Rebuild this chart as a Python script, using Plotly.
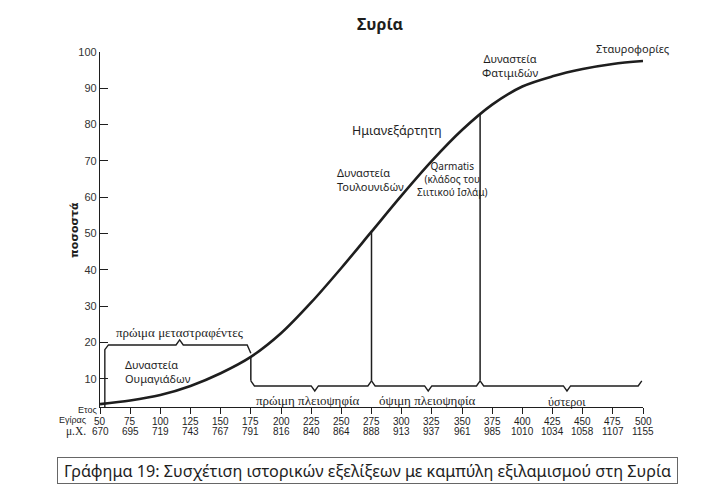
import plotly.graph_objects as go

# values
hijra_years = [50, 75, 100, 125, 150, 175, 200, 225, 250, 275, 300, 325, 350, 375, 400, 425, 450, 475, 500]
ad_years = [670, 695, 719, 743, 767, 791, 816, 840, 864, 888, 913, 937, 961, 985, 1010, 1034, 1058, 1107, 1155]
curve_pct = [3, 4, 5.5, 8, 11.5, 16, 22.5, 31, 40.5, 50.5, 60.5, 70, 78.5, 85.5, 90.5, 93.3, 95.3, 96.7, 97.5]
y_ticks = [10, 20, 30, 40, 50, 60, 70, 80, 90, 100]

# period markers (hijra year where the curve is cut, percent at that point)
event_hijra = [175, 275, 365]
event_pct = [16, 50.5, 83]

# braces: start, end, middle (hijra years)
upper_brace = [54, 175, 116]
lower_braces_start = [175, 275, 365]
lower_braces_end = [275, 365, 499]
lower_braces_mid = [228, 322, 437]

INK = "#1e1e1e"


def brace(x0, x1, xm, level, tip, end0, end1, d=3):
    xs = [x0, x0 + d, xm - d, xm, xm + d, x1 - d, x1]
    ys = [end0, level, level, tip, level, level, end1]
    return xs, ys


fig = go.Figure()

# main curve
fig.add_trace(go.Scatter(x=hijra_years, y=curve_pct, mode="lines",
                         line=dict(color=INK, width=2.6, shape="spline", smoothing=0.9),
                         hoverinfo="skip"))

# vertical cuts from the curve down to the lower braces
for h, p in zip(event_hijra, event_pct):
    fig.add_trace(go.Scatter(x=[h, h], y=[p, 9.4], mode="lines",
                             line=dict(color=INK, width=1.5), hoverinfo="skip"))

# upper brace (early converts), left end running down to the axis
bx, by = brace(upper_brace[0], upper_brace[1], upper_brace[2], 19.3, 20.7, 18, 17)
fig.add_trace(go.Scatter(x=[upper_brace[0]] + bx, y=[2.2] + by, mode="lines",
                         line=dict(color=INK, width=1.4), hoverinfo="skip"))

# lower braces
for a, b, m in zip(lower_braces_start, lower_braces_end, lower_braces_mid):
    bx, by = brace(a, b, m, 8, 6.6, 9.4, 9.4)
    fig.add_trace(go.Scatter(x=bx, y=by, mode="lines",
                             line=dict(color=INK, width=1.4), hoverinfo="skip"))

ann = []
sans = "Noto Sans"
serif = "Liberation Serif"

# two rows of year labels under the axis
for h, ad in zip(hijra_years, ad_years):
    ann.append(dict(x=h, y=0, xref="x", yref="paper", text=str(h), showarrow=False,
                    xanchor="center", yanchor="middle", yshift=-14,
                    font=dict(family="Liberation Sans", size=10, color=INK)))
    ann.append(dict(x=h, y=0, xref="x", yref="paper", text=str(ad), showarrow=False,
                    xanchor="center", yanchor="middle", yshift=-24,
                    font=dict(family="Liberation Sans", size=10, color=INK)))

ann += [
    dict(x=-0.044, y=0, xref="paper", yref="paper", text="Ετος", xanchor="left", yanchor="middle",
         yshift=-3, showarrow=False, font=dict(family="Liberation Sans", size=9, color=INK)),
    # row names for the two calendars
    dict(x=-0.021, y=0, xref="paper", yref="paper",
         text="Εγίρας<br><span style='font-family:Liberation Serif;font-size:11.5px'>μ.Χ.</span>",
         xanchor="right", yanchor="middle", align="right", yshift=-19, showarrow=False,
         font=dict(family="Liberation Sans", size=9, color=INK)),
    # y axis title
    dict(x=-0.046, y=51, xref="paper", yref="y", text="<b>ποσοστά</b>", textangle=-90, showarrow=False,
         xanchor="center", yanchor="middle", font=dict(family="DejaVu Sans", size=11, color=INK)),
    # labels in the plot
    dict(x=116, y=22.6, text="πρώιμα μεταστραφέντες", showarrow=False,
         font=dict(family=serif, size=13, color=INK)),
    dict(x=69, y=12, text="Δυναστεία<br>Ουμαγιάδων", xanchor="left", align="left", showarrow=False,
         font=dict(family=sans, size=11, color=INK)),
    dict(x=222, y=4.1, text="πρώιμη πλειοψηφία", showarrow=False,
         font=dict(family=serif, size=13, color=INK)),
    dict(x=321, y=4.1, text="όψιμη πλειοψηφία", showarrow=False,
         font=dict(family=serif, size=13, color=INK)),
    dict(x=437, y=3.6, text="ύστεροι", showarrow=False,
         font=dict(family=serif, size=12, color=INK)),
    dict(x=244.5, y=64.8, text="Δυναστεία<br>Τουλουνιδών", xanchor="left", align="left", showarrow=False,
         font=dict(family=sans, size=11, color=INK)),
    dict(x=296.5, y=78.5, text="Ημιανεξάρτητη", showarrow=False,
         font=dict(family=sans, size=12.5, color=INK)),
    dict(x=341.5, y=65, text="Qarmatis<br>(κλάδος του<br>Σιιτικού Ισλάμ)", showarrow=False,
         font=dict(family=sans, size=10, color=INK)),
    dict(x=390, y=96.2, text="Δυναστεία<br>Φατιμιδών", showarrow=False,
         font=dict(family=sans, size=11, color=INK)),
    dict(x=491.5, y=1.011, yref="paper", text="Σταυροφορίες", showarrow=False,
         xanchor="center", yanchor="middle", font=dict(family=sans, size=11, color=INK)),
    # caption box
    dict(x=0.4926, y=-0.1775, xref="paper", yref="paper", showarrow=False,
         xanchor="center", yanchor="middle",
         text="Γράφημα 19: Συσχέτιση ιστορικών εξελίξεων με καμπύλη εξιλαμισμού στη Συρία",
         width=615, height=21, borderpad=2, bordercolor="#666", borderwidth=1,
         font=dict(family=sans, size=16.2, color=INK)),
]

# the page adds an 8px body margin, so the figure is 8px smaller than the window
fig.update_layout(
    width=700, height=494,
    margin=dict(l=92, r=65, t=44, b=95),
    plot_bgcolor="white", paper_bgcolor="white",
    showlegend=False,
    title=dict(text="<b>Συρία</b>", x=0.5157, xref="paper", y=0.966, yanchor="middle",
               font=dict(family=sans, size=16, color=INK)),
    xaxis=dict(range=[50, 500], tickvals=hijra_years, showticklabels=False,
               ticks="outside", ticklen=6, tickcolor=INK, tickwidth=1.2,
               showline=True, linecolor=INK, linewidth=1.3, showgrid=False, zeroline=False),
    yaxis=dict(range=[2.2, 100], tickvals=y_ticks, ticks="inside", ticklen=8, tickcolor=INK,
               tickwidth=1.2, showline=True, linecolor=INK, linewidth=1.3, showgrid=False,
               zeroline=False, tickfont=dict(family="Liberation Sans", size=11, color="#333")),
    annotations=ann,
)

fig.write_html("out.html")
